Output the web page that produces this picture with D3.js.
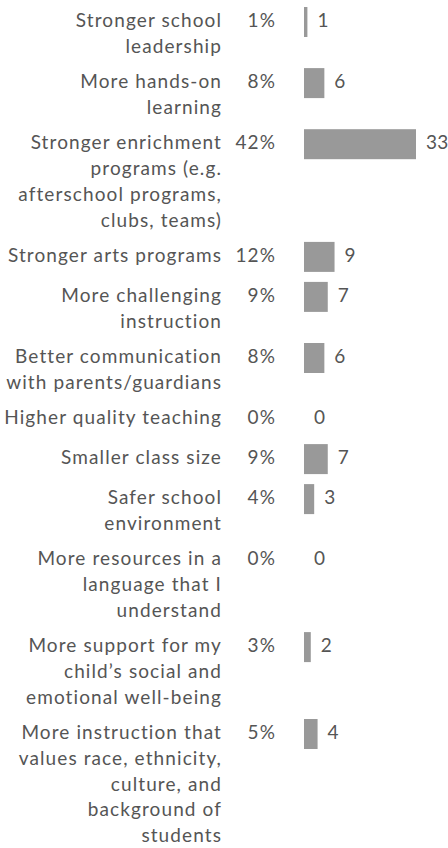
<!doctype html>
<html>
  <head>
    <script src="https://cdn.jsdelivr.net/npm/d3@7/dist/d3.min.js"></script>
    <style>
      body { margin: 0; background: #fff; }
      text { font-family: Lato, "Open Sans", sans-serif; font-size: 19px; letter-spacing: 1.1px; fill: #555; }
      text.count { letter-spacing: 0.3px; }
    </style>
  </head>
  <body>
    <div id="my_dataviz"></div>
    <script>
      // categories (line breaks as in the original)
      var categories = [
        "Stronger school\nleadership",
        "More hands-on\nlearning",
        "Stronger enrichment\nprograms (e.g.\nafterschool programs,\nclubs, teams)",
        "Stronger arts programs",
        "More challenging\ninstruction",
        "Better communication\nwith parents/guardians",
        "Higher quality teaching",
        "Smaller class size",
        "Safer school\nenvironment",
        "More resources in a\nlanguage that I\nunderstand",
        "More support for my\nchild\u2019s social and\nemotional well-being",
        "More instruction that\nvalues race, ethnicity,\nculture, and\nbackground of\nstudents"
      ];
      var counts = [1, 6, 33, 9, 7, 6, 0, 7, 3, 0, 2, 4];
      var percents = ["1%", "8%", "42%", "12%", "9%", "8%", "0%", "9%", "4%", "0%", "3%", "5%"];

      var width = 448, height = 848;
      var lineH = 25.8, barH = 30, gap = 9.5;
      var labelX = 222, pctX = 276, barX = 304;

      var svg = d3.select("#my_dataviz")
        .append("svg")
        .attr("width", width)
        .attr("height", height);

      // row positions depend on number of label lines
      var rows = [];
      var yPos = 7;
      categories.forEach(function(c, i) {
        var lines = c.split("\n");
        rows.push({label: lines, count: counts[i], pct: percents[i], y: yPos});
        yPos += Math.max(lines.length * lineH + gap, 40);
      });

      var x = d3.scaleLinear().domain([0, 33]).range([0, 112]);

      var g = svg.selectAll(".row")
        .data(rows)
        .enter()
        .append("g")
        .attr("class", "row")
        .attr("transform", function(d) { return "translate(0," + d.y + ")"; });

      g.append("text")
        .attr("text-anchor", "end")
        .selectAll("tspan")
        .data(function(d) { return d.label; })
        .enter()
        .append("tspan")
        .attr("x", labelX)
        .attr("y", function(d, i) { return 20 + i * lineH; })
        .text(function(d) { return d; });

      g.append("text")
        .attr("text-anchor", "end")
        .attr("x", pctX)
        .attr("y", 20)
        .text(function(d) { return d.pct; });

      g.append("rect")
        .attr("x", barX)
        .attr("y", 0)
        .attr("width", function(d) { return x(d.count); })
        .attr("height", barH)
        .attr("fill", "#999");

      g.append("text")
        .attr("class", "count")
        .attr("x", function(d) { return barX + x(d.count) + 10; })
        .attr("y", 20)
        .text(function(d) { return d.count; });
    </script>
  </body>
</html>
